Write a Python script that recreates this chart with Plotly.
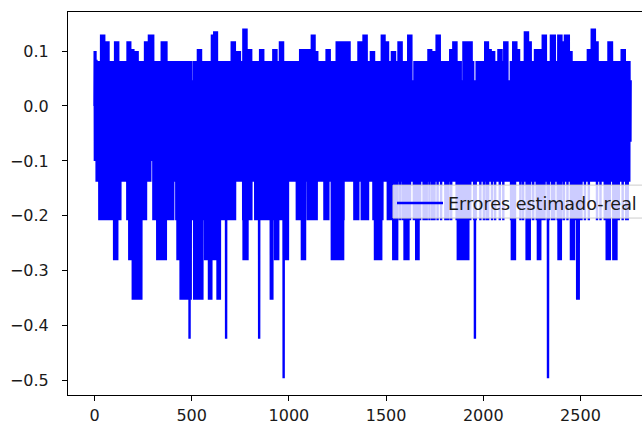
import plotly.graph_objects as go

# Quantised error levels: one code character per level
level_codes = "uqvwxytfzghb23456"
level_values = [0.141, 0.136, 0.130, 0.118, 0.104, 0.100, 0.082, 0.047, 0.000,
                -0.065, -0.100, -0.138, -0.208, -0.281, -0.353, -0.424, -0.496]

# Estimated-minus-real error per sample, 100 samples per row (groups of 10)
error_rows = [
    "zyhyhyhtht tbtbtbtbtb tbtbt2t2tb t2tbv2vbv2 vbv2vbv2v2 vbtbtbtbt2 w2wbw2wbw2 wbw2tbfbf2 tbt2tbt2tb t2t2tbtbtb",
    "t3t2t3w2w3 w2w3w2w3w2 w2wbt2tbt2 tbt2tbtbtb tbtbtbtbtb tbtbtbtbtb tbtbtbtbt2 w2wbw2wbw3 w3w2w3x2x3 x2x3x2x4x3",
    "x4t2y4y2y4 y2y4y2yby2 yby2t4t2t4 t2t4t2t4tb t4t2tbt2tb t2tbt2tbt2 w2wbw2wbwb wbwbwbwbwb vbvbvbvbvh vhvhvhvhvh",
    "vhv2tbt2tb t2tbt2tbt2 fbf3f2f3t2 t3t2t3t2t3 t2t3t2w3w2 w3w2w3w2w3 w2w3w2w3w2 wbt2tbt2tb t2tbt2tbt2 tbt2tbt2tb",
    "t2tbt2tbtb tbtbtbtbtb t2tbt2t3t2 t3t2t3t2t3 t2t4t3t4t2 t4t2t4t2f4 f2f4f2t4t2 t4t2tbt2t4 f2f4f2f4t5 t4t2t4t2tb",
    "f2fbf2fbf2 fbt4t2t4t2 t4t2t4t2tb t2xbx4x2x4 x2x4x2x4x2 t4t2t4t2tb t2tbt2tbt3 t2t3t2t3t2 t3t2t3t2t4 t2t4t2t4t2",
    "f4f2vbv2v3 v2v3v2q3q2 q3q2qbq2qb q2t4t2t4t2 t4t2t4t2tb t2tbt2tbt2 tbt2tbt2tb t2tbt2t5t2 tbt2tbt2tb t2tbt2tbt2",
    "tbt2tbw2wb w2wbw2wbw2 wbw2tbtbtb thyhyhygyh ybybybybyb tbtbtbtbtb tbtbt2u3u2 u3u2u3u2u3 u2u3t2t3x2 x2xbx2xbx2",
    "xbx2xbx2tb tbtbtbtbtb tbtbfbf2tb t2tbt2tbt2 tbt2tbt5t2 tbx2xbx2xb x2xbx2xbx2 tbt2tbt2tb t2tbt2tbt2 tbt2tbtbt2",
    "t2tbt2t4t2 t4t2t4t2tb x2xbx2xbx3 x2x3x2x3t2 t3t2t3tbt2 tbt2wbw2wb wbwgwgwbw2 w2t6t3t2t3 t2t3t2t3t2 t3t2t3tbzb",
    "zbzbzbtbtb tbtbtbtbtb tbtbtbtbtb tbtbtbtbtb f2fbf2fbt2 tbt2tbt2xb x2xbx2x3x2 x3x2x3x2x3 x2x3xbxbxb xbxbxbx2xb",
    "x2xbx2xbx2 tbt2tbt2vb v2vbv2vbv2 vbv2yby2yb y2y2ybybtb tbtbtbtbtb tbtbtbtbtb tbtbtgtztz tgt2tbt2tb t2tbx2xbx2",
    "xbx2xbxbxb xbtbtbtbtb t3t2t3t2t3 t2t3t2t3t2 f3f2t3w2wb w2wbw3w2w3 w2w3w2w3w2 w3w2w3w2w3 w2wbwbwbwb tbtbtbtbwb",
    "wbwbwbwbwb wbwbtbtbtb tbtbtgtgtb tbtbtbt2tb t2tbt2tbt2 tbt2tbt2wg wgwbwbwbwb wbwbw2tbt2 tbt2vbv2vb v2vbv2vbv2",
    "vbt2tbt2tb tbtbtbtbtb tbybybybyb ybyby2yby2 tbt3t2t3t2 t3t2t3t2t3 t2t3t2t3t2 t3t2t3t2vb v2vbvbvbvb vbvbwbwbwb",
    "wbwbwbwbw2 wbt2tbt2tb t2tbt2tbt2 ybygygy3y2 y3y2y3y2t3 t2t3t2t3t2 tbtbwbwbwb wbw2wbwbwb wbtbtbt2tb t2tbt3t2t3",
    "t2t3t2t3t2 t3t2v3vbvb vbv2vbvbvb vbfbfbfbfb fbf2fbtbtb tbt2t3t2t3 t2t3t2t3t2 tbtbt2tbtb tbtbtbtgtg tbt2tbtbtb",
    "tbt2tbtbt2 tbtbtbtbxb xbx2xbxbxb xbxbyby2yb ybybybyby2 ybtbtbtbtb vbvbv2vbvb vbvbvbvbtb tbt2tbtbtb tbtgtgtbtb",
    "tbtbt2tbtb tbtbtbt2tb t2tbtbtbtb xbxbx2xbxb xbxbxbwbwb wbwgwgwbwb wbw2tbt2t3 t2t3t2t3t2 t3t2t3f2f3 f2f3f2f3w2",
    "wbw2wbw3w2 w3w2w3w2w3 f2f3fbwbwb wbw2wbwbwb wbtbtbtbtb fbf2fbf5fb f2fbfbtbtb tbtbtbtbtb tbtbt2tbtb tbtbtbtbtb",
    "tbt2tbtbtb wbwbwbw2wb wbwbw2xbxb xbxbxbxbxb ybyby2ybyb ybybybybtb t2tbtbtbtb tbtbtbtbxb xbxbx2xbxb xbxbxbtbtb",
    "tbt2tbtbwb wbwbwbwbwb wbwbwbfbfb fbfbfbfbfb fbt2tbt3t2 t3t2w3w2w3 w2w3wgwgwb wbxbxbxbxb xbxbxbtbtb t2tbtbtbtb",
    "tbtbt2tbtb tbtbqbqbqb qbq3q2q3q2 q3w2w3w2w3 w2wbwbtbtb tbtbtbt2tb tbtbtbxbxb xbxbx2xbxb x3x2x3x2x3 x2x3x2xbxb",
    "xbxbxbv2vb vbvbv2vbvb vbvbtbtbtb t2t6tbt2tb tbtbtbtbvb vbv2vbvbvb vbvbv2vbvb tbtbtbtbtb tbt2tbv3v2 v3v2v3v2v3",
    "v2vbwbwbwb wbwbw2wbwb vbvbvbvbvb vbv2vbvbvb vbybybybyb y3y2y3t2t3 t2t3t2t3t2 tbtbtbtbtb t2t4t2t4t2 t4t2tbtbtb",
    "tbtbt2tbtb tbtbtbtbtb tbt2tbtbtb tbtbtbtbxb xbx2xbxbxb xbxbxbxbub ubububugug ubububwbwb wbwbw2wbwb tbtbtbtbtb",
    "tbt2tbtbtb tbtbtbtbtb tbtbt2tbtb tbtbt3t2t3 t2t3w2w3w2 w3wbwbwbwb wbwztztbf3 f2t3t2t3t2 t3t2t3tbtb tbtbtbt2tb",
    "tbtbtbtbtb tbxbxbx2xb xgxgxbxbxb tbtbt2tbtb tbt2tbtbtb tbtgfgfgf",
]

series_name = "Errores estimado-real"
x_ticks = [0, 500, 1000, 1500, 2000, 2500]
y_ticks = [0.1, 0.0, -0.1, -0.2, -0.3, -0.4, -0.5]

level_of = dict(zip(level_codes, level_values))
codes = "".join(error_rows).replace(" ", "")
errors = [level_of[c] for c in codes]
sample = list(range(len(errors)))

fig = go.Figure()
fig.add_trace(go.Scatter(
    x=sample, y=errors, mode="lines", name=series_name,
    line=dict(color="#0000ff", width=2.4, simplify=False),
    showlegend=True,
))

# Legend frame: translucent box that runs past the right edge of the figure
fig.add_shape(
    type="rect", xref="paper", yref="paper",
    x0=0.5662, x1=1.2, y0=0.462, y1=0.548, layer="above",
    line=dict(color="#cccccc", width=1), fillcolor="rgba(255,255,255,0.8)",
)

axis_font = dict(family="DejaVu Sans", size=16, color="#1a1a1a")
fig.update_layout(
    width=642, height=425,
    margin=dict(l=68, r=0, t=12, b=30),
    paper_bgcolor="white", plot_bgcolor="white",
    showlegend=True,
    legend=dict(
        x=1.0, y=0.548, xanchor="right", yanchor="top",
        bgcolor="rgba(0,0,0,0)", borderwidth=0,
        itemwidth=46,
        font=dict(family="DejaVu Sans", size=17.5, color="#1a1a1a"),
    ),
    xaxis=dict(
        range=[-136.3, 2816.5], tickvals=x_ticks, ticktext=[str(v) for v in x_ticks],
        showgrid=False, zeroline=False, showline=True, linecolor="black", linewidth=1,
        mirror=True, ticks="outside", ticklen=5, tickwidth=1, tickcolor="black",
        ticklabelstandoff=1, tickfont=axis_font, automargin=False,
    ),
    yaxis=dict(
        range=[-0.5264, 0.1712], tickvals=y_ticks, tickformat=".1f",
        showgrid=False, zeroline=False, showline=True, linecolor="black", linewidth=1,
        mirror=False, ticks="outside", ticklen=5, tickwidth=1, tickcolor="black",
        ticklabelstandoff=10, tickfont=axis_font, automargin=False,
    ),
)

fig.write_html("out.html")
